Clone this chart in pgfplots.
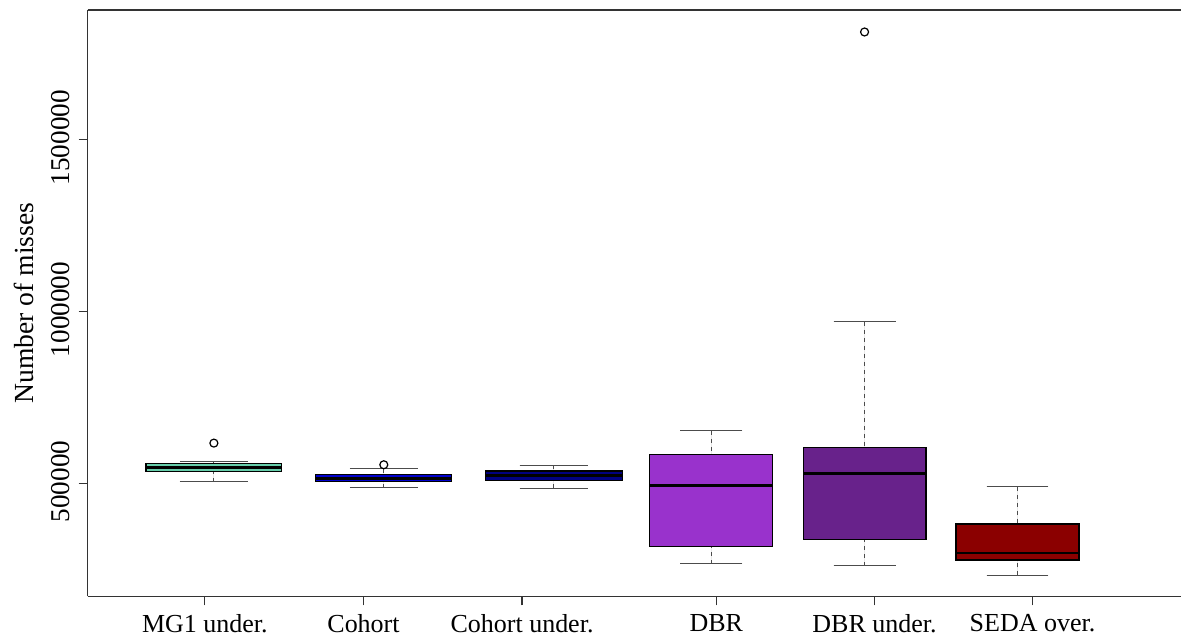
\documentclass[border=0pt]{standalone}
\usepackage{fontspec}
\setmainfont{Liberation Serif}
\usepackage{pgfplots}
\usepgfplotslibrary{statistics}
\pgfplotsset{compat=1.18}
\definecolor{cMG}{RGB}{102,205,170}
\definecolor{cCo}{RGB}{0,0,205}
\definecolor{cCu}{RGB}{0,0,128}
\definecolor{cDBR}{RGB}{153,50,204}
\definecolor{cDBRu}{RGB}{104,34,139}
\definecolor{cSEDA}{RGB}{139,0,0}
\pgfplotsset{
  boxplot/draw direction=y,
  boxplot/draw/lower whisker/.code={%
    \draw[black!70, line width=0.5pt, dash pattern=on 2pt off 2pt] (boxplot box cs:\pgfplotsboxplotvalue{lower whisker},0.5) -- (boxplot box cs:\pgfplotsboxplotvalue{lower quartile},0.5);
    \draw[black!70, line width=0.5pt] (boxplot whisker cs:\pgfplotsboxplotvalue{lower whisker},0) -- (boxplot whisker cs:\pgfplotsboxplotvalue{lower whisker},1);
  },
  boxplot/draw/upper whisker/.code={%
    \draw[black!70, line width=0.5pt, dash pattern=on 2pt off 2pt] (boxplot box cs:\pgfplotsboxplotvalue{upper whisker},0.5) -- (boxplot box cs:\pgfplotsboxplotvalue{upper quartile},0.5);
    \draw[black!70, line width=0.5pt] (boxplot whisker cs:\pgfplotsboxplotvalue{upper whisker},0) -- (boxplot whisker cs:\pgfplotsboxplotvalue{upper whisker},1);
  },
  boxplot/every median/.style={line width=1.4pt, black},
  boxplot/every box/.style={draw=black, line width=0.6pt},
}
\begin{document}
\fontsize{13pt}{15pt}\selectfont
\begin{tikzpicture}
% y values in thousands of misses
\begin{axis}[
  scale only axis, width=547.15pt, height=293.35pt,
  xmin=87.7, xmax=1182, ymin=171.5, ymax=1877,
  separate axis lines,
  axis x line*=box, axis y line*=left,
  axis line style={black!80, line width=0.6pt},
  xtick pos=bottom, ytick pos=left,
  tick align=outside, major tick length=4.5pt,
  tick style={black!80, line width=0.6pt},
  xtick={205,363.7,522.3,716.7,875,1033},
  xticklabels={MG1 under., Cohort, Cohort under., DBR, DBR under., SEDA over.},
  xticklabel style={yshift=0pt},
  ytick={500,1000,1500},
  yticklabels={500000,1000000,1500000},
  yticklabel style={rotate=90, anchor=south, xshift=1pt, font=\fontsize{13.6pt}{15pt}\selectfont},
  ylabel={Number of misses},
  ylabel style={font=\fontsize{13.8pt}{15pt}\selectfont},
  clip=false,
  mark size=2pt,
]
\addplot[boxplot prepared={draw position=214, box extend=136, whisker extend=68,
  median=547.1, lower quartile=534.0, upper quartile=558.1,
  lower whisker=504.9, upper whisker=565.1},
  fill=cMG, mark=o, mark options={black, solid, line width=0.6pt}] coordinates {(0,617.4)};
\addplot[boxplot prepared={draw position=384, box extend=136, whisker extend=68,
  median=515.1, lower quartile=504.9, upper quartile=525.3,
  lower whisker=487.5, upper whisker=542.7},
  fill=cCo, mark=o, mark options={black, solid, line width=0.6pt}] coordinates {(0,554.4)};
\addplot[boxplot prepared={draw position=554, box extend=137, whisker extend=68,
  median=522.4, lower quartile=508.7, upper quartile=536.0,
  lower whisker=485.5, upper whisker=552.3},
  fill=cCu] coordinates {};
\addplot[boxplot prepared={draw position=711.7, box extend=123, whisker extend=62,
  median=494.2, lower quartile=316.0, upper quartile=583.4,
  lower whisker=266.6, upper whisker=653.2},
  fill=cDBR] coordinates {};
\addplot[boxplot prepared={draw position=865, box extend=123, whisker extend=62,
  median=529.1, lower quartile=336.3, upper quartile=604.7,
  lower whisker=260.7, upper whisker=970.0},
  fill=cDBRu, mark=o, mark options={black, solid, line width=0.6pt}] coordinates {(0,1813.1)};
\addplot[boxplot prepared={draw position=1018, box extend=123, whisker extend=62,
  median=297.7, lower quartile=277.3, upper quartile=381.9,
  lower whisker=232.6, upper whisker=490.4},
  fill=cSEDA] coordinates {};
\path (axis cs:0,60.17) rectangle (axis cs:1182,1906.1);
\end{axis}
\end{tikzpicture}
\end{document}
